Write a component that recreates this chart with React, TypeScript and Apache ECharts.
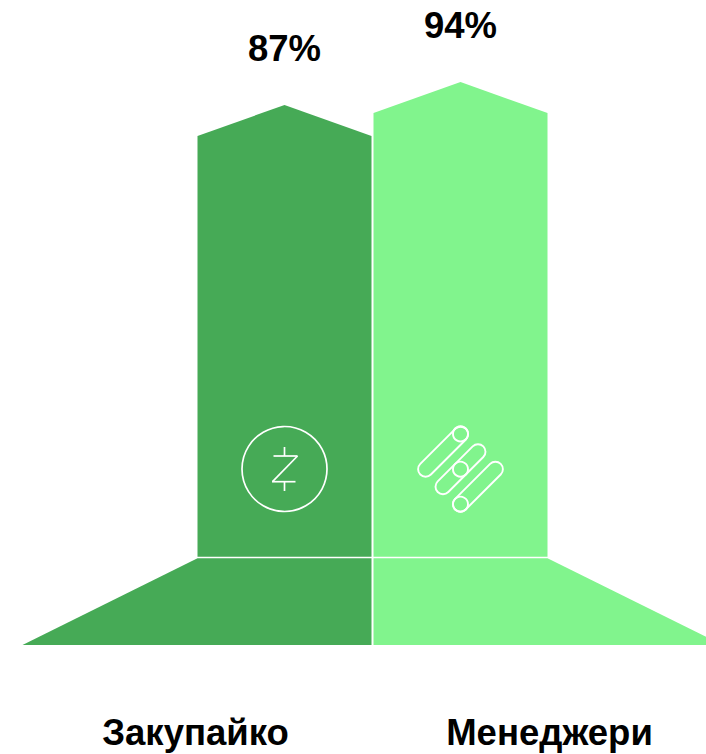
import React, { useEffect, useRef } from "react";
import * as echarts from "echarts";

const categories = ["Закупайко", "Менеджери"];
const percentValues = [87, 94];
const barColors = ["#46AA56", "#81F48D"];

const WHITE = "#FFFFFF";
const FONT_FAMILY = '"Liberation Sans", Arial, sans-serif';

function zcashIcon(cx: number, cy: number) {
  const stroke = { stroke: WHITE, lineWidth: 1.7, fill: "none" };
  const seg = (x1: number, y1: number, x2: number, y2: number) => ({
    type: "line",
    shape: { x1, y1, x2, y2 },
    style: stroke,
  });
  return {
    type: "group",
    x: cx,
    y: cy,
    children: [
      { type: "circle", shape: { cx: 0, cy: 0, r: 42.5 }, style: stroke },
      seg(-11, -13, 13, -13),
      seg(13, -13, -12, 12.7),
      seg(-12.5, 12.7, 11, 12.7),
      seg(0, -22, 0, -13),
      seg(0, 12.7, 0, 22),
    ],
  };
}

function capsulesIcon(cx: number, cy: number) {
  const stroke = { stroke: WHITE, lineWidth: 1.9, fill: "none" };
  const r = 7.5;
  const len = 49.5;
  const capsule = (dx: number, dy: number) => ({
    type: "rect",
    x: dx,
    y: dy,
    rotation: Math.PI / 4,
    shape: { x: -len / 2 - r, y: -r, width: len + 2 * r, height: 2 * r, r },
    style: stroke,
  });
  const dot = (dy: number) => ({
    type: "circle",
    shape: { cx: 0, cy: dy, r },
    style: stroke,
  });
  return {
    type: "group",
    x: cx,
    y: cy,
    children: [
      capsule(-17.4, -17.5),
      capsule(0, 0),
      capsule(17.4, 17.5),
      dot(-35.3),
      dot(0),
      dot(35),
    ],
  };
}

function renderItem(params: any, api: any) {
  const index = api.value(0);
  const value = api.value(1);
  const [bandCenter, peakY] = api.coord([index, value]);
  const band = api.size([1, 0])[0];
  const sys = params.coordSys;
  const bottom = sys.y + sys.height;
  const side = index === 0 ? 1 : -1; // the tower sits on the inner half of the band
  const inner = bandCenter + (side * band) / 2 - side * 1;
  const outer = bandCenter;
  const outerFoot = bandCenter - (side * band) / 2;
  const peakX = (inner + outer) / 2;
  const shoulderY = peakY + 31;
  const towerBottom = bottom - 88.3;
  const footTop = bottom - 86.8;
  const fill = barColors[index];
  return {
    type: "group",
    children: [
      {
        type: "polygon",
        shape: {
          points: [
            [outer, shoulderY],
            [peakX, peakY],
            [inner, shoulderY],
            [inner, towerBottom],
            [outer, towerBottom],
          ],
        },
        style: { fill },
      },
      {
        type: "polygon",
        shape: {
          points: [
            [outer, footTop],
            [inner, footTop],
            [inner, bottom],
            [outerFoot, bottom],
          ],
        },
        style: { fill },
      },
      index === 0 ? zcashIcon(peakX, 469) : capsulesIcon(peakX, 469.2),
      {
        type: "text",
        style: {
          text: `${value}%`,
          x: peakX,
          y: peakY - 56.5,
          align: "center",
          verticalAlign: "middle",
          fill: "#000000",
          font: `bold 36.5px ${FONT_FAMILY}`,
        },
      },
    ],
  };
}

const labelRich = {
  color: "#000000",
  fontFamily: FONT_FAMILY,
  fontWeight: "bold",
  fontSize: 36.5,
};

export default function App() {
  const ref = useRef<HTMLDivElement>(null);
  useEffect(() => {
    const chart = echarts.init(ref.current!, undefined, { renderer: "svg" });
    chart.setOption({
      animation: false,
      backgroundColor: "#FFFFFF",
      grid: {
        left: 22.5,
        width: 700,
        top: 82,
        height: 563,
        containLabel: false,
        outerBoundsMode: "none",
      },
      xAxis: {
        type: "category",
        data: categories,
        axisLine: { show: false },
        axisTick: { show: false },
        splitLine: { show: false },
        axisLabel: {
          show: true,
          interval: 0,
          margin: 69,
          formatter: (name: string, i: number) =>
            i === 0 ? `{left|${name}}` : `{right|${name}}`,
          rich: {
            left: { ...labelRich, padding: [0, 4, 0, 0] },
            right: { ...labelRich, padding: [0, 0, 0, 4] },
          },
        },
      },
      yAxis: {
        type: "value",
        min: -77.35,
        max: 94,
        show: false,
        splitLine: { show: false },
      },
      series: [
        {
          type: "custom",
          clip: false,
          renderItem,
          encode: { x: 0, y: 1 },
          data: percentValues.map((v, i) => [i, v]),
        },
      ],
    });
    return () => chart.dispose();
  }, []);
  return (
    <div
      ref={ref}
      style={{ position: "fixed", left: 0, top: 0, width: 706, height: 754 }}
    />
  );
}
